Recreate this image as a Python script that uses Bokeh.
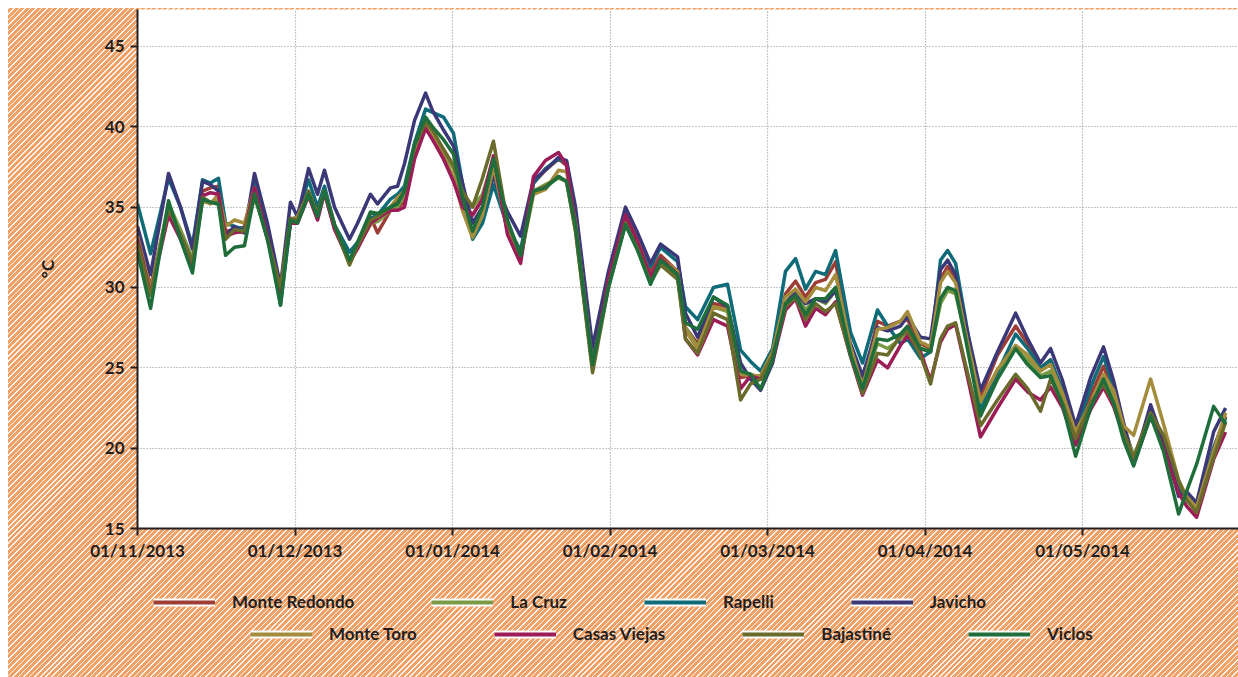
from bokeh.plotting import figure
from bokeh.layouts import column
from bokeh.models import Range1d, FixedTicker, Legend, LegendItem
from bokeh.embed import file_html
from bokeh.resources import INLINE

# x positions in months since 01/11/2013
x_months = [0.000, 0.083, 0.197, 0.273, 0.349, 0.413, 0.463, 0.514, 0.559, 0.616,
            0.679, 0.743, 0.825, 0.908, 0.971, 1.016, 1.086, 1.143, 1.187, 1.251,
            1.346, 1.397, 1.479, 1.524, 1.606, 1.651, 1.695, 1.759, 1.829, 1.873,
            1.943, 2.006, 2.063, 2.127, 2.190, 2.260, 2.349, 2.432, 2.514, 2.590,
            2.673, 2.724, 2.781, 2.889, 2.990, 3.098, 3.175, 3.257, 3.321, 3.429,
            3.479, 3.556, 3.657, 3.746, 3.829, 3.892, 3.956, 4.032, 4.114, 4.178,
            4.241, 4.305, 4.368, 4.432, 4.527, 4.603, 4.698, 4.762, 4.844, 4.889,
            4.971, 5.035, 5.098, 5.143, 5.194, 5.257, 5.352, 5.460, 5.575, 5.651,
            5.733, 5.797, 5.873, 5.956, 6.051, 6.133, 6.197, 6.260, 6.324, 6.432,
            6.514, 6.610, 6.660, 6.724, 6.832, 6.908]

tick_positions = [0, 1, 2, 3, 4, 5, 6]
tick_labels = ["01/11/2013", "01/12/2013", "01/01/2014", "01/02/2014",
               "01/03/2014", "01/04/2014", "01/05/2014"]
y_ticks = [15, 20, 25, 30, 35, 40, 45]

monte_redondo = [33.5,30.0,35.0,33.5,31.7,36.0,36.2,36.3,33.5,33.6,
                 33.8,36.0,33.5,29.6,34.3,34.3,35.8,34.6,36.0,33.8,
                 31.5,32.5,34.4,33.4,34.8,35.0,35.3,38.2,40.0,39.4,
                 38.0,36.8,35.3,34.5,35.5,38.0,33.8,31.8,36.5,37.3,
                 38.0,37.6,34.0,25.3,30.8,34.7,33.0,31.0,32.0,31.0,
                 27.5,26.5,29.0,28.8,24.4,24.5,24.3,25.6,29.6,30.4,
                 29.4,30.3,30.5,31.6,26.2,24.0,27.9,27.6,27.9,28.0,
                 26.5,26.2,30.5,31.3,30.5,27.5,23.2,25.8,27.6,26.5,
                 25.0,25.5,23.4,20.8,23.3,25.1,23.5,21.5,19.4,22.3,
                 20.5,17.6,17.0,16.0,20.0,22.0]
la_cruz = [33.0,29.8,35.2,33.6,31.8,35.5,35.3,35.4,33.2,33.5,
           33.4,35.6,33.2,29.5,34.2,34.2,35.8,34.3,35.9,33.7,
           31.5,32.5,34.0,34.1,34.8,35.0,35.8,38.6,40.3,39.6,
           38.4,37.4,35.9,35.0,35.8,38.0,33.5,31.8,36.0,36.4,
           36.8,36.6,33.5,25.0,30.4,34.0,32.5,30.5,31.5,30.6,
           27.5,26.3,28.8,28.5,24.6,24.6,24.4,25.8,29.0,29.8,
           28.6,29.3,29.0,29.8,26.0,24.0,26.5,26.2,26.8,27.2,
           26.2,26.0,29.0,29.8,29.6,27.0,22.5,24.8,26.2,25.5,
           24.5,24.8,23.0,21.0,22.8,24.2,23.2,21.4,19.5,21.9,
           20.6,17.7,17.0,16.2,19.6,21.7]
rapelli = [35.2,32.1,36.8,35.0,32.6,36.7,36.5,36.8,34.0,33.8,
           33.6,36.6,33.6,28.9,34.0,34.5,36.7,35.0,36.3,33.9,
           32.2,32.8,34.3,34.5,35.5,35.8,36.3,39.0,41.1,40.9,
           40.6,39.6,36.5,33.0,34.0,36.4,33.8,32.3,36.5,37.4,
           38.0,37.8,34.5,25.7,30.2,34.0,32.5,31.3,32.5,31.6,
           28.8,28.0,30.0,30.2,26.1,25.4,24.8,26.2,31.0,31.8,
           29.9,31.0,30.8,32.3,27.2,25.3,28.6,27.6,26.5,26.8,
           25.6,26.0,31.7,32.3,31.5,28.0,22.3,24.7,27.1,26.2,
           25.0,25.5,23.6,21.0,23.8,25.7,23.8,21.4,19.0,22.5,
           20.3,17.4,17.0,16.4,20.0,21.9]
javicho = [33.8,30.8,37.1,35.0,32.4,36.6,36.4,36.0,33.2,33.8,
           33.4,37.1,34.0,30.1,35.3,34.4,37.4,35.8,37.3,35.0,
           33.0,34.0,35.8,35.2,36.2,36.3,37.7,40.4,42.1,41.0,
           39.8,38.8,36.5,34.0,35.0,36.9,34.7,33.2,36.7,37.3,
           38.1,37.9,35.0,26.3,31.0,35.0,33.4,31.5,32.7,31.9,
           28.4,26.9,29.4,28.8,25.3,24.3,23.6,25.3,29.0,29.7,
           29.0,29.3,29.1,29.8,26.5,24.5,27.5,27.3,27.6,28.2,
           26.9,26.8,31.1,31.7,30.8,27.8,23.6,26.0,28.4,26.8,
           25.3,26.2,24.2,21.4,24.4,26.3,24.2,21.6,19.0,22.7,
           20.4,17.0,17.3,16.6,21.0,22.5]
monte_toro = [33.2,29.8,34.8,33.2,31.5,35.4,35.2,35.8,33.8,34.2,
              34.0,36.2,33.0,29.8,34.2,34.4,35.9,34.5,36.0,33.9,
              31.6,32.6,33.9,34.4,35.0,35.6,36.0,38.6,40.4,39.6,
              38.2,36.8,34.8,33.1,34.5,37.5,33.6,31.8,35.8,36.1,
              37.3,37.2,34.0,25.2,30.2,34.4,32.8,30.7,31.8,31.0,
              27.3,26.2,28.8,28.6,24.6,24.5,24.5,26.0,29.4,29.9,
              29.1,30.0,29.8,30.8,26.3,23.8,27.4,27.5,27.9,28.5,
              26.6,26.3,30.3,31.0,30.3,27.2,22.9,24.9,26.4,25.8,
              24.8,25.2,23.4,21.0,22.8,24.6,23.6,21.4,20.8,24.3,
              21.5,18.0,17.0,16.3,19.8,22.2]
casas_viejas = [33.0,29.6,34.5,33.0,31.3,35.7,35.9,35.8,33.2,33.4,
                33.5,36.2,33.2,29.6,34.0,34.0,35.7,34.2,35.9,33.6,
                31.6,32.4,34.0,34.3,34.8,34.8,35.0,38.0,39.9,39.2,
                38.0,36.6,35.0,34.5,35.5,38.2,33.3,31.5,36.9,37.9,
                38.4,37.6,33.8,25.0,30.5,34.5,32.8,30.7,31.8,30.8,
                26.8,25.8,28.0,27.6,23.7,24.5,24.3,25.4,28.6,29.3,
                27.6,28.7,28.3,29.1,25.7,23.3,25.5,25.0,26.4,27.0,
                26.0,24.2,26.6,27.4,27.7,25.0,20.7,22.5,24.3,23.5,
                23.0,23.8,22.5,20.2,22.4,23.8,22.6,20.8,19.0,22.0,
                20.0,17.2,16.4,15.7,19.3,21.0]
bajastine = [32.8,29.5,34.9,33.3,31.6,35.6,35.3,35.2,33.0,33.6,
             33.5,35.8,33.0,30.0,34.3,34.2,36.0,34.6,36.0,33.9,
             31.4,32.6,34.2,34.4,35.0,35.3,36.0,38.8,40.3,39.8,
             38.6,37.6,36.0,35.0,36.8,39.1,34.0,32.0,36.0,36.3,
             36.9,36.6,33.5,24.7,30.0,34.0,32.4,30.3,31.4,30.5,
             26.8,25.9,28.4,28.0,23.0,24.0,24.3,25.8,28.8,29.4,
             28.0,29.0,28.5,29.0,25.8,23.4,25.9,25.8,27.0,27.3,
             25.8,24.0,26.8,27.6,27.8,25.2,21.4,23.0,24.6,23.7,
             22.3,24.3,22.8,20.6,22.8,24.0,22.8,21.0,19.4,22.2,
             20.8,18.0,16.8,16.0,19.4,21.6]
viclos = [32.2,28.7,35.4,33.0,30.9,35.5,35.3,35.2,32.0,32.5,
          32.6,35.8,33.0,28.9,34.2,34.0,35.8,34.4,36.0,33.9,
          31.7,32.8,34.7,34.6,35.0,35.2,36.0,38.9,40.6,40.0,
          39.2,38.3,35.6,33.5,35.0,38.0,34.2,32.0,36.0,36.2,
          36.9,36.6,33.8,25.2,30.0,33.9,32.3,30.2,31.7,30.8,
          27.8,27.4,29.4,28.9,24.8,24.6,23.7,25.5,29.0,29.5,
          28.3,29.3,29.3,30.0,25.8,23.7,26.8,26.7,27.1,27.6,
          26.2,26.0,29.3,30.0,29.8,26.8,22.0,24.3,26.2,25.2,
          24.4,24.5,22.7,19.5,22.5,24.3,22.8,20.5,18.9,22.0,
          19.8,15.9,17.3,19.0,22.6,21.5]

series_names = ["Monte Redondo", "La Cruz", "Rapelli", "Javicho",
                "Monte Toro", "Casas Viejas", "Bajastiné", "Viclos"]
series_values = [monte_redondo, la_cruz, rapelli, javicho,
                 monte_toro, casas_viejas, bajastine, viclos]
series_colors = ["#9c3d36", "#7b9a45", "#0e6b77", "#3b3878",
                 "#a38c3c", "#9c1c57", "#6a6a2c", "#1f6d3b"]

FONT = "Lato"
TXT = "#231f20"
ORANGE = "#efa168"
NAN = float("nan")

X0, X1 = 0, 6.99
Y0, Y1 = 15, 47.30

# ---- main chart ----
p = figure(width=1230, height=570, output_backend="svg", toolbar_location=None,
           x_range=Range1d(X0, X1), y_range=Range1d(Y0, Y1),
           min_border_left=129, min_border_right=0, min_border_top=1,
           min_border_bottom=50)
p.background_fill_color = "white"
p.border_fill_alpha = 0
p.outline_line_color = None

for ax in (p.xaxis, p.yaxis):
    ax.axis_line_width = 2
    ax.axis_line_color = TXT
    ax.major_tick_line_width = 2
    ax.major_tick_line_color = TXT
    ax.major_tick_in = 0
    ax.major_tick_out = 7
    ax.minor_tick_line_color = None
    ax.major_label_text_font = FONT
    ax.major_label_text_font_style = "bold"
    ax.major_label_text_font_size = "17px"
    ax.major_label_text_color = TXT

p.xaxis.ticker = FixedTicker(ticks=tick_positions)
p.xaxis.major_label_overrides = {t: lab for t, lab in zip(tick_positions, tick_labels)}
p.xaxis.major_label_standoff = 4
p.yaxis.ticker = FixedTicker(ticks=y_ticks)
p.yaxis.major_label_standoff = 6
p.yaxis.axis_label = "°C"
p.yaxis.axis_label_standoff = 44
p.yaxis.axis_label_text_font = FONT
p.yaxis.axis_label_text_font_style = "bold"
p.yaxis.axis_label_text_font_size = "17px"
p.yaxis.axis_label_text_color = TXT

for g in (p.xgrid, p.ygrid):
    g.grid_line_color = "#8f8f8f"
    g.grid_line_dash = "1 2"
    g.grid_line_width = 1.2

for name, vals, col in zip(series_names, series_values, series_colors):
    p.line(x_months, vals, line_color=col, line_width=3.5, line_join="round")

# ---- legend strip (frame aligned with the chart frame by the column) ----
lg = figure(width=1230, height=99, output_backend="svg", toolbar_location=None,
            x_range=Range1d(0, 1), y_range=Range1d(0, 1),
            x_axis_location=None, y_axis_location=None,
            min_border_left=0, min_border_right=0, min_border_top=0,
            min_border_bottom=0)
lg.grid.visible = False
lg.background_fill_alpha = 0
lg.border_fill_alpha = 0
lg.outline_line_color = None

rows = [(series_names[:4], series_colors[:4], (16, 65)),
        (series_names[4:], series_colors[4:], (113, 33))]
for names, cols, loc in rows:
    items = []
    for name, col in zip(names, cols):
        w = lg.line([NAN], [NAN], line_color="white", line_width=8)
        c = lg.line([NAN], [NAN], line_color=col, line_width=4)
        items.append(LegendItem(label=name, renderers=[w, c]))
    leg = Legend(items=items, location=loc, orientation="horizontal",
                 glyph_width=62, glyph_height=20, label_standoff=17,
                 padding=0, margin=0, spacing=77,
                 background_fill_alpha=0, border_line_color=None,
                 label_text_font=FONT, label_text_font_style="bold",
                 label_text_font_size="17px", label_text_color=TXT)
    lg.add_layout(leg)

layout = column(p, lg, spacing=0)
layout.margin = (8, 0, 0, 8)
# hatched orange surround behind the transparent figure borders
layout.styles = {
    "background-color": ORANGE,
    "background-image": "repeating-linear-gradient(135deg, rgba(255,255,255,0.9) 0px, "
                        "rgba(255,255,255,0.9) 1.1px, rgba(255,255,255,0) 1.1px, "
                        "rgba(255,255,255,0) 3.9px)",
}

open("out.html", "w").write(file_html(layout, INLINE))
